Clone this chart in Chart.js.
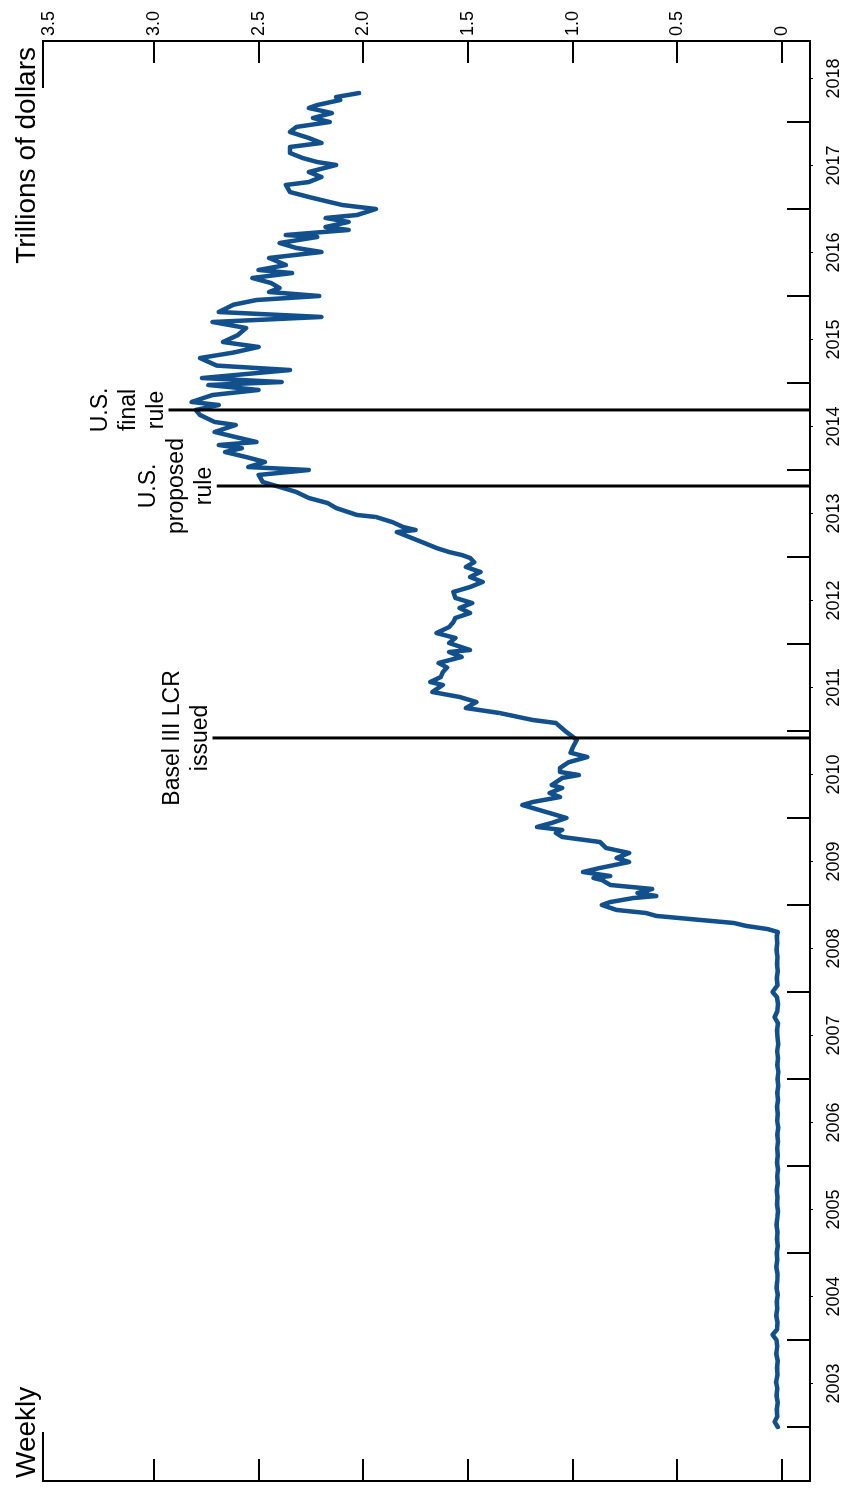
<!DOCTYPE html>
<html><head><meta charset="utf-8">
<script src="https://cdn.jsdelivr.net/npm/chart.js@4.4.0/dist/chart.umd.min.js"></script>
<style>
html,body{margin:0;padding:0;overflow:hidden;background:#fff;width:844px;height:1490px;}
#wrap{position:absolute;left:0;top:0;width:1490px;height:844px;transform-origin:0 0;transform:translate(0,1490px) rotate(-90deg);}
canvas{display:block;}
</style></head><body>
<div id="wrap"><canvas id="c" width="1490" height="844"></canvas></div>
<script>
// ---- data (decimal year, trillions of dollars) ----
const weeks = [
2003.00,2003.06,2003.12,2003.20,2003.28,2003.36,2003.44,2003.52,2003.60,2003.68,2003.76,2003.84,2003.92,
2004.00,2004.06,2004.12,2004.20,2004.28,2004.36,2004.44,2004.52,2004.60,2004.68,2004.76,2004.84,2004.92,
2005.00,2005.08,2005.16,2005.24,2005.32,2005.40,2005.48,2005.56,2005.64,2005.72,2005.80,2005.88,2005.96,
2006.04,2006.12,2006.20,2006.28,2006.36,2006.44,2006.52,2006.60,2006.68,2006.76,2006.84,2006.92,
2007.00,2007.08,2007.16,2007.24,2007.32,2007.40,2007.48,2007.56,2007.64,2007.71,2007.78,2007.86,2007.94,
2008.00,2008.08,2008.16,2008.24,2008.32,2008.40,2008.48,2008.56,2008.64,
2008.690,2008.724,2008.759,2008.793,2008.828,2008.874,2008.908,2008.943,2009.000,2009.034,2009.080,2009.103,
2009.138,2009.184,2009.230,2009.287,2009.310,2009.333,2009.379,2009.425,2009.494,2009.540,2009.598,2009.655,
2009.724,2009.782,2009.828,2009.862,2009.897,2009.943,2010.000,2010.057,2010.149,2010.184,2010.241,2010.287,
2010.345,2010.379,2010.460,2010.494,2010.529,2010.575,2010.640,2010.701,2010.750,2010.805,2010.897,2010.989,
2011.092,2011.126,2011.207,2011.264,2011.333,2011.391,2011.448,2011.529,2011.563,2011.620,2011.678,2011.730,
2011.782,2011.851,2011.908,2011.931,2012.011,2012.069,2012.126,2012.195,2012.250,2012.299,2012.356,2012.414,
2012.471,2012.529,2012.598,2012.655,2012.713,2012.770,2012.828,2012.885,2012.940,2012.989,2013.023,2013.057,
2013.103,2013.172,2013.287,2013.310,2013.345,2013.400,2013.460,2013.483,2013.563,2013.620,2013.678,2013.747,
2013.805,2013.862,2013.943,2014.000,2014.034,2014.092,2014.149,2014.207,2014.250,2014.287,2014.322,2014.379,
2014.437,2014.517,2014.552,2014.632,2014.690,2014.747,2014.782,2014.862,2014.920,2014.977,2015.011,2015.057,
2015.149,2015.200,2015.287,2015.350,2015.414,2015.471,2015.550,2015.632,2015.701,2015.759,2015.816,2015.900,
2015.954,2016.000,2016.046,2016.092,2016.149,2016.207,2016.264,2016.299,2016.356,2016.437,2016.506,2016.552,
2016.609,2016.678,2016.701,2016.759,2016.793,2016.851,2016.897,2016.931,2017.000,2017.046,2017.080,2017.138,
2017.195,2017.276,2017.310,2017.368,2017.425,2017.506,2017.540,2017.586,2017.644,2017.713,2017.759,2017.816,
2017.885,2017.943,2018.000,2018.046,2018.103,2018.161,2018.195,2018.253,2018.287,2018.333
];
const reserves = [
0.020,0.035,0.022,0.025,0.020,0.026,0.022,0.028,0.021,0.024,0.020,0.027,0.023,
0.026,0.045,0.024,0.021,0.027,0.022,0.025,0.020,0.026,0.023,0.021,0.027,0.022,
0.025,0.020,0.024,0.021,0.026,0.022,0.019,0.024,0.021,0.025,0.020,0.023,0.019,
0.024,0.020,0.023,0.019,0.022,0.018,0.023,0.020,0.024,0.019,0.022,0.018,
0.021,0.017,0.022,0.019,0.023,0.018,0.021,0.024,0.019,0.035,0.022,0.019,0.024,
0.045,0.021,0.025,0.020,0.024,0.021,0.026,0.022,0.025,
0.02,0.07,0.17,0.23,0.39,0.60,0.65,0.79,0.86,0.82,0.71,0.60,
0.69,0.62,0.82,0.86,0.90,0.82,0.95,0.87,0.73,0.79,0.73,0.84,
0.87,1.05,1.08,1.05,1.17,1.10,1.03,1.11,1.24,1.19,1.06,1.11,
1.05,1.10,1.05,0.97,1.06,1.06,1.02,0.93,1.01,1.00,0.98,1.03,
1.08,1.19,1.35,1.51,1.46,1.54,1.67,1.62,1.68,1.63,1.62,1.60,
1.64,1.53,1.59,1.49,1.59,1.56,1.65,1.59,1.57,1.56,1.49,1.54,
1.48,1.56,1.57,1.49,1.43,1.49,1.44,1.51,1.47,1.49,1.53,1.59,
1.65,1.72,1.84,1.75,1.81,1.86,1.94,2.03,2.13,2.17,2.26,2.32,
2.40,2.48,2.50,2.26,2.55,2.47,2.56,2.66,2.58,2.69,2.51,2.61,
2.71,2.61,2.71,2.78,2.80,2.69,2.82,2.72,2.50,2.74,2.39,2.77,
2.35,2.70,2.78,2.62,2.50,2.67,2.60,2.56,2.72,2.20,2.69,2.62,
2.51,2.21,2.45,2.40,2.44,2.53,2.34,2.50,2.37,2.45,2.20,2.32,
2.40,2.22,2.37,2.07,2.18,2.07,2.18,2.03,1.94,2.10,2.16,2.26,
2.35,2.37,2.26,2.20,2.26,2.13,2.22,2.29,2.35,2.35,2.20,2.26,
2.35,2.32,2.16,2.24,2.15,2.26,2.22,2.11,2.13,2.02
];
const yearLabels = ['2003','2004','2005','2006','2007','2008','2009','2010','2011','2012','2013','2014','2015','2016','2017','2018'];
const valueTicks = [0,0.5,1.0,1.5,2.0,2.5,3.0,3.5];
const valueLabels = ['0','0.5','1.0','1.5','2.0','2.5','3.0','3.5'];
const eventDates = [2010.92, 2013.816, 2014.69];
const eventTops = [2.72, 2.70, 2.93];
const eventLabels = [['Basel III LCR','issued'],['U.S.','proposed','rule'],['U.S.','final','rule']];
const titleLeft = 'Weekly';
const titleRight = 'Trillions of dollars';

const FONT = '"Liberation Sans", Arial, Helvetica, sans-serif';
const points = weeks.map((w,i)=>({x:w, y:reserves[i]}));

const decor = {
  id:'decor',
  afterDraw(chart){
    const {ctx, chartArea:a, scales} = chart;
    const xs = scales.x, ys = scales.yR;
    ctx.save();
    ctx.strokeStyle = '#000';
    ctx.lineWidth = 2;
    ctx.beginPath();
    yearLabels.forEach(l=>{
      const px = Math.round(xs.getPixelForValue(Number(l)));
      ctx.moveTo(px, a.bottom); ctx.lineTo(px, a.bottom-23);
    });
    valueTicks.filter(v=>v<=3).forEach(v=>{
      const py = Math.round(ys.getPixelForValue(v));
      ctx.moveTo(a.left, py); ctx.lineTo(a.left+22, py);
      ctx.moveTo(a.right, py); ctx.lineTo(a.right-22, py);
    });
    ctx.moveTo(a.left-1, a.top); ctx.lineTo(a.left+49, a.top);
    ctx.moveTo(a.right-47, a.top); ctx.lineTo(a.right+1, a.top);
    ctx.stroke();
    // event lines
    ctx.lineWidth = 3;
    ctx.fillStyle = '#000';
    ctx.font = '23px ' + FONT;
    ctx.textAlign = 'center';
    ctx.textBaseline = 'alphabetic';
    eventDates.forEach((d,i)=>{
      const px = xs.getPixelForValue(d);
      const top = ys.getPixelForValue(eventTops[i]);
      ctx.beginPath();
      ctx.moveTo(px, a.bottom); ctx.lineTo(px, top);
      ctx.stroke();
      const lines = eventLabels[i];
      lines.forEach((t,j)=>{
        const base = top - 6 - (lines.length-1-j)*28;
        ctx.fillText(t, px, base);
      });
    });
    // titles
    ctx.font = '28px ' + FONT;
    ctx.textAlign = 'left';
    ctx.fillText(titleLeft, a.left+3, a.top-8);
    ctx.textAlign = 'right';
    ctx.fillText(titleRight, a.right-6, a.top-8);
    ctx.restore();
  }
};

new Chart(document.getElementById('c'), {
  type:'line',
  data:{ datasets:[{
    data: points,
    yAxisID:'yR',
    borderColor:'#11508c',
    borderWidth:4.5,
    borderJoinStyle:'round',
    borderCapStyle:'round',
    pointRadius:0,
    tension:0,
    fill:false
  }]},
  options:{
    responsive:false,
    animation:false,
    layout:{padding:{left:9, top:43, right:0, bottom:0}},
    plugins:{legend:{display:false}, tooltip:{enabled:false}, title:{display:false}},
    scales:{
      x:{
        type:'linear', position:'bottom', min:2002.379, max:2018.931,
        afterBuildTicks:s=>{ s.ticks = yearLabels.map(l=>({value:Number(l)+0.5})); },
        afterFit:s=>{ s.height = 34; },
        ticks:{ padding:10, maxRotation:0, autoSkip:false, color:'#000', font:{family:FONT, size:18},
          callback:(v)=>yearLabels[Math.round(v-0.5)-2003] },
        grid:{ drawOnChartArea:false, drawTicks:true, tickLength:3, color:'#000', lineWidth:1 },
        border:{ display:true, color:'#000', width:2 }
      },
      yR:{
        type:'linear', position:'right', min:-0.134, max:3.53,
        afterBuildTicks:s=>{ s.ticks = valueTicks.map(v=>({value:v})); },
        afterFit:s=>{ s.width = 41; },
        ticks:{ padding:5, color:'#000', font:{family:FONT, size:18},
          callback:(v)=>valueLabels[valueTicks.indexOf(v)] },
        grid:{ drawOnChartArea:false, drawTicks:false },
        border:{ display:true, color:'#000', width:2 }
      },
      yL:{
        type:'linear', position:'left', min:-0.134, max:3.53,
        afterFit:s=>{ s.width = 0; },
        ticks:{ display:false },
        grid:{ drawOnChartArea:false, drawTicks:false },
        border:{ display:true, color:'#000', width:2 }
      }
    }
  },
  plugins:[decor]
});
</script>
</body></html>
